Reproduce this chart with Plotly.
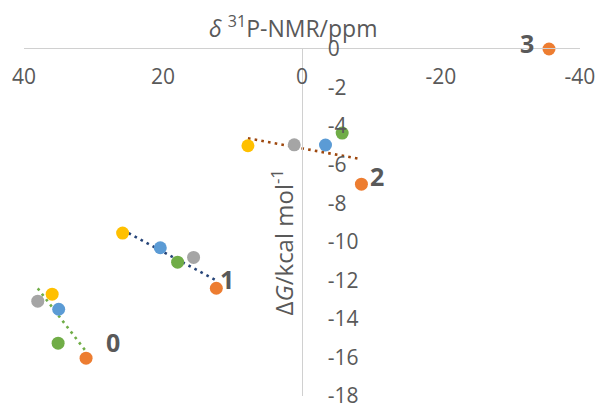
import numpy as np
import plotly.graph_objects as go

# Point colours, one per substituent (same order in every group)
point_colors = ["#FFC000", "#A5A5A5", "#5B9BD5", "#70AD47", "#ED7D31"]

# δ31P chemical shifts (ppm) and ΔG (kcal/mol) for each group
shift_0 = [35.95, 38.02, 35.01, 35.09, 31.07]
dg_0 = [-12.72, -13.08, -13.50, -15.26, -16.04]

shift_1 = [25.81, 15.60, 20.39, 17.90, 12.33]
dg_1 = [-9.55, -10.81, -10.31, -11.06, -12.41]

shift_2 = [7.78, 1.12, -3.38, -5.78, -8.55]
dg_2 = [-5.02, -4.97, -4.98, -4.36, -7.01]

shift_3 = [-35.54]
dg_3 = [0.0]

# which points enter each linear fit
fit_use_0 = [True, True, True, False, True]
fit_use_1 = [True, True, True, True, True]
fit_use_2 = [True, True, True, True, True]

group_labels = ["0", "1", "2", "3"]
trend_colors = ["#70AD47", "#264478", "#9E480E"]

x_ticks = [40, 20, 0, -20, -40]
y_ticks = [0, -2, -4, -6, -8, -10, -12, -14, -16, -18]

FONT = "Open Sans"
GREY = "#595959"

fig = go.Figure()

groups = [
    (shift_0, dg_0, fit_use_0),
    (shift_1, dg_1, fit_use_1),
    (shift_2, dg_2, fit_use_2),
]

# dotted linear trend lines
for (xs, ys, use), col in zip(groups, trend_colors):
    xs_f = np.array(xs)[np.array(use)]
    ys_f = np.array(ys)[np.array(use)]
    k, b = np.polyfit(xs_f, ys_f, 1)
    xl = np.array([xs_f.max(), xs_f.min()])
    fig.add_trace(go.Scatter(
        x=xl, y=k * xl + b, mode="lines",
        line=dict(color=col, width=2.6, dash="2.6px,4.2px"),
        hoverinfo="skip", showlegend=False, cliponaxis=False,
    ))

# data points
for xs, ys, _ in groups:
    fig.add_trace(go.Scatter(
        x=xs, y=ys, mode="markers",
        marker=dict(size=13, color=point_colors[:len(xs)], line=dict(width=0)),
        showlegend=False, cliponaxis=False,
    ))
fig.add_trace(go.Scatter(
    x=shift_3, y=dg_3, mode="markers",
    marker=dict(size=13, color=point_colors[4], line=dict(width=0)),
    showlegend=False, cliponaxis=False,
))

# group numbers next to the orange point of each group
label_anchor = [(shift_0[4], dg_0[4]), (shift_1[4], dg_1[4]),
                (shift_2[4], dg_2[4]), (shift_3[0], dg_3[0])]
label_offsets = [(27, 16), (11, 9), (16, 8), (-22, 6)]
for txt, (ax_, ay_), (dx, dy) in zip(group_labels, label_anchor, label_offsets):
    fig.add_annotation(
        x=ax_, y=ay_, xref="x", yref="y", text=f"<b>{txt}</b>",
        showarrow=False, xshift=dx, yshift=dy,
        font=dict(family=FONT, size=25, color=GREY),
    )

# axis titles
fig.add_annotation(
    x=0.5, y=1.0, xref="paper", yref="paper",
    text="<i>δ</i> <sup>31</sup>P-NMR/ppm", showarrow=False,
    xshift=-9, yshift=22, yanchor="middle",
    font=dict(family=FONT, size=23, color=GREY),
)
fig.add_annotation(
    x=0.5, y=0.5, xref="paper", yref="paper",
    text="Δ<i>G</i>/kcal mol<sup>-1</sup>", showarrow=False,
    textangle=-90, xshift=-20, yshift=-20,
    font=dict(family=FONT, size=24, color=GREY),
)

fig.update_layout(
    width=600, height=405,
    margin=dict(l=24, r=20, t=49, b=9, autoexpand=False),
    paper_bgcolor="white", plot_bgcolor="white",
    font=dict(family=FONT, color=GREY),
    xaxis=dict(
        range=[40, -40], side="top", ticklabelposition="inside",
        tickvals=x_ticks, ticktext=[str(v) for v in x_ticks],
        showgrid=False, zeroline=False, showline=True,
        linecolor="#D0D0D0", linewidth=1, ticks="",
        tickfont=dict(family=FONT, size=21, color=GREY),
        ticklabelstandoff=22, ticklabeloverflow="allow", automargin=False,
    ),
    yaxis=dict(
        range=[-18, 0], anchor="free", position=0.5, side="left",
        ticklabelposition="inside",
        tickvals=y_ticks, ticktext=[str(v) for v in y_ticks],
        showgrid=False, zeroline=False, showline=True,
        linecolor="#D0D0D0", linewidth=1, ticks="",
        tickfont=dict(family=FONT, size=21, color=GREY),
        ticklabelstandoff=26, ticklabeloverflow="allow", automargin=False,
    ),
)

fig.write_html("out.html")
